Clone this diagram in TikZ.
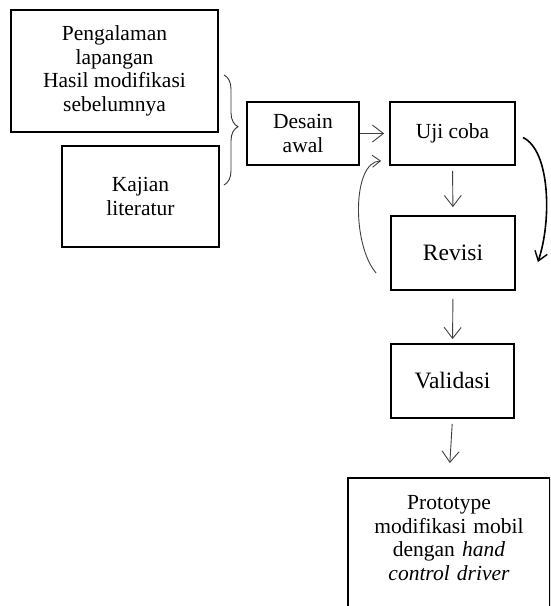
\documentclass[tikz,border=0pt]{standalone}
\usepackage{fontspec}
\setmainfont{Liberation Serif}
\usetikzlibrary{arrows.meta,decorations.pathreplacing,calc}
\begin{document}
\begin{tikzpicture}[x=1pt,y=-1pt,
  box/.style={draw=black,line width=1.8pt,rectangle,align=center,inner sep=0pt,
    font=\fontsize{21.5}{23.5}\selectfont},
  bigbox/.style={box,font=\fontsize{23.5}{25}\selectfont},
  flow/.style={draw=black!75,line width=0.9pt,-{Straight Barb[length=11pt,width=17pt,line width=0.9pt]}},
  loopl/.style={draw=black!75,line width=0.9pt,-{Straight Barb[length=8pt,width=12pt,line width=0.9pt]}},
  loopr/.style={draw=black,line width=1.6pt,-{Straight Barb[length=9pt,width=13pt,line width=1.4pt]}},
  bracestyle/.style={draw=black!80,line width=0.9pt,decorate,decoration={brace,amplitude=14pt,aspect=0.47}}
]
\useasboundingbox (0,0) rectangle (550,606);
\clip (0,0) rectangle (550,606);

\node[box,minimum width=207pt,minimum height=122pt] (peng) at (114.5,71)
  {Pengalaman\\lapangan\\Hasil modifikasi\\sebelumnya};
\node[box,minimum width=157pt,minimum height=101pt] (kaj) at (140.5,196.5)
  {Kajian\\literatur};
\node[box,minimum width=112pt,minimum height=63pt] (des) at (303,133.5)
  {Desain\\awal};
\node[box,minimum width=125pt,minimum height=63pt] (uji) at (452.5,133.5)
  {Uji coba};
\node[bigbox,minimum width=124pt,minimum height=74pt] (rev) at (453,253)
  {Revisi};
\node[bigbox,minimum width=123pt,minimum height=74pt] (val) at (452.5,381)
  {Validasi};
\node[box,anchor=north,minimum width=202pt,text width=196pt,inner ysep=18pt,text depth=110pt] (proto) at (449,477)
  {Prototype\\modifikasi mobil\\dengan \textit{hand}\\\textit{control driver}};

\coordinate (bt) at (224,75);
\coordinate (bb) at (224,185);
\path[bracestyle] (bt) -- (bb);

\path[flow,shorten >=5pt] (des.east) -- (uji.west);
\path[flow,shorten <=5pt,shorten >=8pt] (uji.south) -- (rev.north);
\path[flow,shorten <=8pt,shorten >=4pt] (rev.south) -- (val.north);
\path[flow,shorten <=5pt,shorten >=14pt] (val.south) -- (proto.north);

\path[loopl] ([xshift=-14pt,yshift=-20pt]rev.west) .. controls (352,245) and (352,162) .. ([xshift=-8pt,yshift=5pt]uji.south west);
\path[loopr] ([xshift=7pt,yshift=-4pt]uji.east) .. controls (550,150) and (552,220) .. ([xshift=22pt,yshift=-9pt]rev.east);
\end{tikzpicture}
\end{document}
